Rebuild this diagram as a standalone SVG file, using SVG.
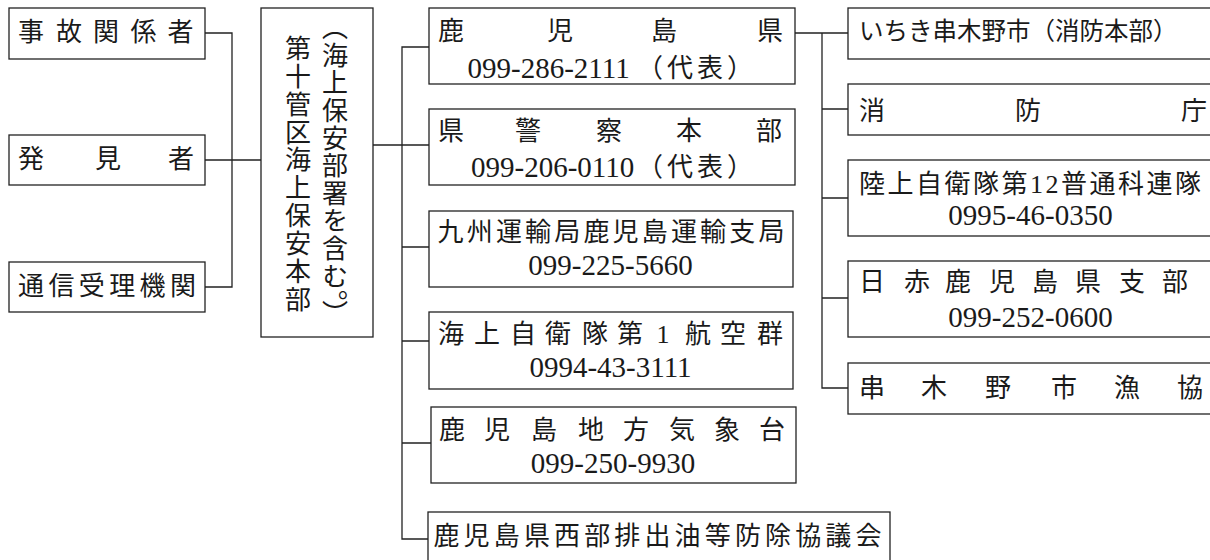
<svg xmlns="http://www.w3.org/2000/svg" width="1210" height="560" viewBox="0 0 1210 560">
<style>
.box{fill:#fff;stroke:#222;stroke-width:1.3}
.ln{fill:none;stroke:#222;stroke-width:1.3}
text{font-family:"Liberation Serif","Noto Sans CJK JP",serif;font-size:26px;fill:#1a1a1a}
.n{font-size:29px}
.c{text-anchor:middle}
.s{font-size:24.5px}
.v{font-family:"Noto Sans CJK JP",sans-serif;writing-mode:vertical-rl}
</style>
<rect width="1210" height="560" fill="#fff"/>
<g id="connectors">
<path class="ln" d="M205,33 H232 V287 H205 M205,160 H261"/>
<path class="ln" d="M373,145 H402 M429,47 H402 V539 H428 M402,145 H429 M402,247 H429 M402,341 H429 M402,443 H431"/>
<path class="ln" d="M795,33 H848 M822,33 V388 H848 M822,109 H848 M822,198 H848 M822,298 H848"/>
</g>
<g id="n-jiko">
<rect class="box" x="9" y="8" width="196" height="51"/>
<text class="c" x="31 69 106 143.5 180.5" y="41">事故関係者</text>
</g>
<g id="n-hakken">
<rect class="box" x="9" y="135" width="196" height="50"/>
<text class="c" x="31 108 181" y="168">発見者</text>
</g>
<g id="n-tsushin">
<rect class="box" x="9" y="262" width="196" height="50"/>
<text class="c" x="31 61.4 91.8 122.2 152.6 183" y="295">通信受理機関</text>
</g>
<g id="n-hq">
<rect class="box" x="261" y="8" width="112" height="329"/>
<text class="v" x="335" y="14.4" letter-spacing="1.6">（海上保安部署を含む。</text>
<text class="v" x="335" y="300">）</text>
<text class="v" x="298" y="35" letter-spacing="1.9">第十管区海上保安本部</text>
</g>
<g id="n-pref">
<rect class="box" x="429" y="8" width="366" height="76"/>
<text class="c" x="451 560 664 770" y="40">鹿児島県</text>
<text class="n" x="467.5" y="77.5">099-286-2111</text>
<text x="637 667 697 727" y="77">（代表）</text>
</g>
<g id="n-police">
<rect class="box" x="429" y="109" width="366" height="76"/>
<text class="c" x="451 528 609 689 769" y="140">県警察本部</text>
<text class="n" x="471" y="176.5">099-206-0110</text>
<text x="637 667 697 727" y="176">（代表）</text>
</g>
<g id="n-transport">
<rect class="box" x="429" y="211" width="364" height="76"/>
<text class="c" x="450.5 479.7 508.9 538.1 567.2 596.4 625.6 654.8 684 713.1 742.3 771.5" y="241">九州運輸局鹿児島運輸支局</text>
<text class="n c" x="610.5" y="275">099-225-5660</text>
</g>
<g id="n-msdf">
<rect class="box" x="429" y="312" width="364" height="77"/>
<text class="c" x="451 487 523 558 595 630 663 698 733 770" y="343">海上自衛隊第1航空群</text>
<text class="n c" x="610.5" y="377">0994-43-3111</text>
</g>
<g id="n-jma">
<rect class="box" x="431" y="407" width="365" height="76"/>
<text class="c" x="452 497 544 591 636 682 727 772" y="439">鹿児島地方気象台</text>
<text class="n c" x="613" y="473">099-250-9930</text>
</g>
<g id="n-council">
<rect class="box" x="428" y="512" width="462" height="52"/>
<text class="c" x="446.5 476.6 506.8 536.9 567.1 597.2 627.3 657.5 687.6 717.8 747.9 778 808.2 838.3 868.5" y="545">鹿児島県西部排出油等防除協議会</text>
</g>
<g id="n-ichiki">
<rect class="box" x="848" y="8" width="365" height="51"/>
<text class="s" x="859" y="40">いちき串木野市（消防本部）</text>
</g>
<g id="n-fdma">
<rect class="box" x="848" y="84" width="365" height="51"/>
<text class="c" x="872 1028 1194" y="120">消防庁</text>
</g>
<g id="n-gsdf">
<rect class="box" x="848" y="160" width="365" height="76"/>
<text x="859" y="193" textLength="342" lengthAdjust="spacing">陸上自衛隊第12普通科連隊</text>
<text class="n c" x="1030.5" y="225">0995-46-0350</text>
</g>
<g id="n-redcross">
<rect class="box" x="848" y="261" width="365" height="76"/>
<text class="c" x="872 917 958 1002 1045 1088 1132 1175" y="291">日赤鹿児島県支部</text>
<text class="n c" x="1030.5" y="327">099-252-0600</text>
</g>
<g id="n-fishery">
<rect class="box" x="848" y="363" width="365" height="51"/>
<text class="c" x="872 934 998 1064 1127 1190" y="397">串木野市漁協</text>
</g>
</svg>
